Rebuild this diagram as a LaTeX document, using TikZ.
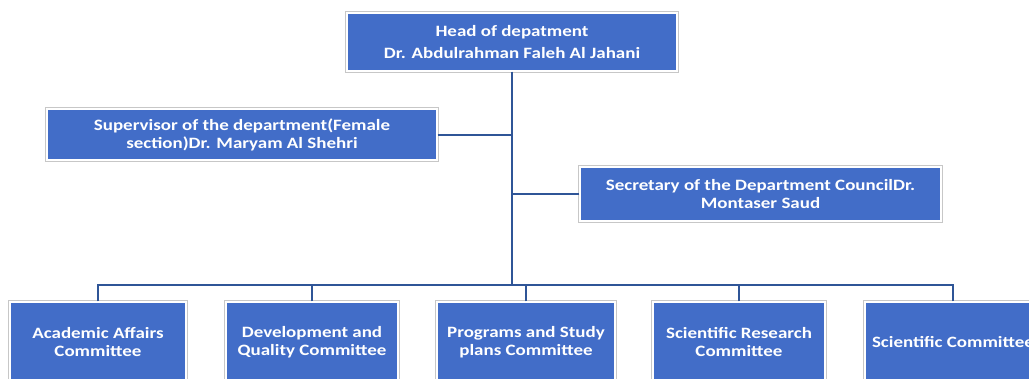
\documentclass[tikz,border=0pt]{standalone}
\usepackage{fontspec}
\setmainfont{Carlito}[FakeStretch=1.2]
\usepackage{tikz}
\definecolor{boxblue}{RGB}{66,109,200}
\definecolor{linkblue}{RGB}{47,85,151}
\tikzset{
  unitbox/.style={fill=boxblue, draw=white, line width=1.2pt, text=white,
    font=\bfseries\fontsize{15.8}{18}\selectfont, align=center, inner sep=2pt,
    preaction={draw=black!22, line width=3.4pt}},
  link/.style={draw=linkblue, line width=2pt}
}
\begin{document}
\begin{tikzpicture}[x=1pt, y=-1pt]
  %%%%% START %%%%%
  \useasboundingbox (0,0) rectangle (1029,378);
  \clip (0,0) rectangle (1029,378);

  \node[unitbox, minimum width=330pt, minimum height=58pt,
    font=\bfseries\fontsize{15.8}{22}\selectfont] (head) at (512,42)
    {Head of depatment\\Dr. Abdulrahman Faleh Al Jahani};

  \node[unitbox, minimum width=390pt, minimum height=51pt] (sup) at (242,134.5)
    {Supervisor of the department(Female\\section)Dr. Maryam Al Shehri};
  \node[unitbox, minimum width=361pt, minimum height=54pt] (sec) at (760.5,194)
    {Secretary of the Department CouncilDr.\\Montaser Saud};

  \node[unitbox, minimum width=176pt, minimum height=80pt] (c1) at (98,342)
    {Academic Affairs\\Committee};
  \node[unitbox, minimum width=172pt, minimum height=80pt] (c2) at (312,342)
    {Development and\\Quality Committee};
  \node[unitbox, minimum width=178pt, minimum height=80pt] (c3) at (526,342)
    {Programs and Study\\plans Committee};
  \node[unitbox, minimum width=172pt, minimum height=80pt] (c4) at (739,342)
    {Scientific Research\\Committee};
  \node[unitbox, minimum width=176pt, minimum height=80pt] (c5) at (953,342)
    {Scientific Committee};

  \coordinate (bus) at (head.south |- 0,285);
  \draw[link] (head.south) -- (bus);
  \draw[link] (sup.east) -- (sup.east -| head.south);
  \draw[link] (sec.west) -- (sec.west -| head.south);
  \foreach \c in {c1,c2,c3,c4,c5}
    \draw[link] (\c.north) |- (bus);
  %%%%% END %%%%%
\end{tikzpicture}
\end{document}
